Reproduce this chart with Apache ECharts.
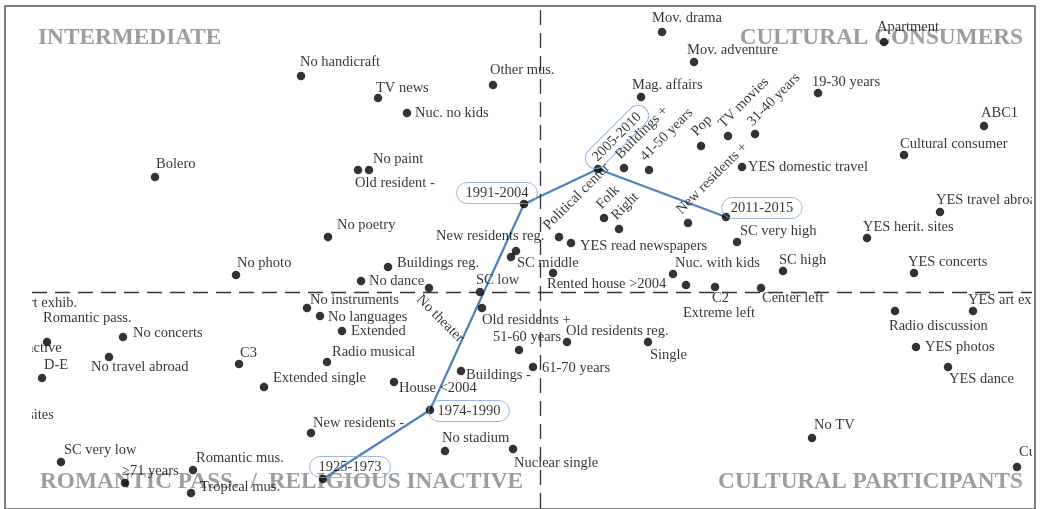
<!DOCTYPE html>
<html><head><meta charset="utf-8">
<script src="https://cdn.jsdelivr.net/npm/echarts@6/dist/echarts.min.js"></script>
<style>html,body{margin:0;padding:0;background:#fff}#chart{width:1043px;height:509px}</style>
</head><body><div id="chart"></div>
<script>
// ---- Data: category points of the correspondence map (dimension 1, dimension 2) ----
const pointNames = [
  'No handicraft','Bolero','No photo','No poetry','TV news','Nuc. no kids','Other mus.','No paint','Old resident -',
  '1991-2004','New residents reg.','SC middle','Buildings reg.','No dance','No theater','SC low',
  'Mov. drama','Mov. adventure','Apartment','Mag. affairs','19-30 years','ABC1','2005-2010','Buildings +','41-50 years',
  'Pop','TV movies','31-40 years','Cultural consumer','YES domestic travel','Political center','Folk','Right',
  'New residents +','2011-2015','YES read newspapers','SC very high','YES herit. sites','YES travel abroad',
  'Rented house >2004','Nuc. with kids','SC high','YES concerts','Extreme left','C2','Center left',
  'Old residents +','51-60 years','Old residents reg.','Single','61-70 years','Nuclear single','YES art exhib.',
  'Radio discussion','YES photos','YES dance','No TV','Cultural participant',
  'No instruments','No languages','Extended','Radio musical','Buildings -','House <2004','1974-1990','No stadium',
  'New residents -','1925-1973','Romantic pass.','No concerts','No travel abroad','D-E','C3','Extended single',
  'SC very low','≥71 years','Romantic mus.','Tropical mus.','No art exhib.','Inactive','No herit. sites'
];
const dim1 = [
  -1.195,-1.925,-1.52,-1.06,-0.81,-0.665,-0.235,-0.855,-0.91,
  -0.08,-0.12,-0.145,-0.76,-0.895,-0.555,-0.30,
  0.61,0.77,1.72,0.505,1.39,2.22,0.29,0.42,0.545,
  0.805,0.94,1.075,1.82,1.01,0.095,0.32,0.395,
  0.74,0.93,0.155,0.985,1.635,2.0,
  0.065,0.665,1.215,1.87,0.73,0.875,1.105,
  -0.29,-0.105,0.135,0.54,-0.035,-0.135,2.165,
  1.775,1.88,2.04,1.36,2.385,
  -1.165,-1.10,-0.99,-1.065,-0.395,-0.73,-0.55,-0.475,
  -1.145,-1.085,-2.465,-2.085,-2.155,-2.49,-1.505,-1.38,
  -2.395,-2.075,-1.735,-1.745,-2.73,-2.73,-2.85
];
const dim2 = [
  1.08,0.575,0.085,0.275,0.97,0.895,1.035,0.61,0.61,
  0.44,0.205,0.175,0.125,0.055,0.02,0.0,
  1.30,1.15,1.25,0.975,0.995,0.83,0.615,0.62,0.61,
  0.73,0.78,0.79,0.685,0.625,0.275,0.37,0.315,
  0.345,0.375,0.245,0.25,0.27,0.40,
  0.095,0.09,0.105,0.095,0.035,0.025,0.02,
  -0.08,-0.29,-0.25,-0.25,-0.375,-0.785,-0.095,
  -0.095,-0.275,-0.375,-0.73,-0.875,
  -0.08,-0.12,-0.195,-0.35,-0.395,-0.45,-0.59,-0.795,
  -0.705,-0.935,-0.25,-0.225,-0.325,-0.43,-0.36,-0.475,
  -0.85,-0.955,-0.89,-1.005,-0.055,-0.28,-0.615
];
const periodNames = ['1925-1973','1974-1990','1991-2004','2005-2010','2011-2015'];
const quadrantTitles = ['INTERMEDIATE','CULTURAL CONSUMERS','ROMANTIC PASS.  /  RELIGIOUS INACTIVE','CULTURAL PARTICIPANTS'];

// ---- Label placement (style only): [dx, dy, mode] relative to the dot ----
const labelPlacement = {
  'No handicraft':[-1,-14,'l'],'Bolero':[1,-13,'l'],'No photo':[1,-12,'l'],'No poetry':[9,-12,'l'],
  'TV news':[-2,-10,'l'],'Nuc. no kids':[8,0,'l'],'Other mus.':[-3,-15,'l'],'No paint':[4,-11,'l'],
  'Old resident -':[-3,13,'l'],'1991-2004':[-27,-11,'c'],'New residents reg.':[-80,-15,'l'],'SC middle':[6,6,'l'],
  'Buildings reg.':[9,-4,'l'],'No dance':[8,0,'l'],'No theater':[-5,4,'d'],'SC low':[-4,-12,'l'],
  'Mov. drama':[-10,-14,'l'],'Mov. adventure':[-7,-12,'l'],'Apartment':[-7,-15,'l'],'Mag. affairs':[-9,-12,'l'],
  '19-30 years':[-6,-11,'l'],'ABC1':[-3,-13,'l'],'2005-2010':[19,-32,'cu'],'Buildings +':[-1,-6,'u'],
  '41-50 years':[-1,-6,'u'],'Pop':[-2,-7,'u'],'TV movies':[-2,-5,'u'],'31-40 years':[0,-5,'u'],
  'Cultural consumer':[-4,-11,'l'],'YES domestic travel':[6,0,'l'],'Political center':[-8,-4,'u'],
  'Folk':[0,-6,'u'],'Right':[0,-6,'u'],'New residents +':[-4,-6,'u'],'2011-2015':[36,-9,'c'],
  'YES read newspapers':[9,3,'l'],'SC very high':[3,-11,'l'],'YES herit. sites':[-4,-11,'l'],
  'YES travel abroad':[-4,-12,'l'],'Rented house >2004':[-6,11,'l'],'Nuc. with kids':[2,-11,'l'],
  'SC high':[-4,-11,'l'],'YES concerts':[-6,-11,'l'],'Extreme left':[-3,28,'l'],'C2':[-3,11,'l'],
  'Center left':[1,10,'l'],'Old residents +':[0,12,'l'],'51-60 years':[-26,-13,'l'],
  'Old residents reg.':[-1,-11,'l'],'Single':[2,13,'l'],'61-70 years':[9,1,'l'],'Nuclear single':[1,14,'l'],
  'YES art exhib.':[-5,-11,'l'],'Radio discussion':[-6,15,'l'],'YES photos':[9,0,'l'],'YES dance':[1,12,'l'],
  'No TV':[2,-13,'l'],'Cultural participant':[2,-15,'l'],'No instruments':[3,-8,'l'],'No languages':[8,1,'l'],
  'Extended':[9,0,'l'],'Radio musical':[5,-10,'l'],'Buildings -':[5,4,'l'],'House <2004':[5,6,'l'],
  '1974-1990':[39,1,'c'],'No stadium':[-3,-13,'l'],'New residents -':[2,-10,'l'],'1925-1973':[27,-12,'c'],
  'Romantic pass.':[-4,-24,'l'],'No concerts':[10,-4,'l'],'No travel abroad':[-18,10,'l'],'D-E':[2,-13,'l'],
  'C3':[1,-11,'l'],'Extended single':[9,-9,'l'],'SC very low':[3,-12,'l'],'≥71 years':[-3,-12,'l'],
  'Romantic mus.':[3,-12,'l'],'Tropical mus.':[9,-6,'l'],'No art exhib.':[7,0,'l'],'Inactive':[21,0,'l'],
  'No herit. sites':[3,0,'l']
};

const DOT = 8.5, R = DOT / 2;
const FONT = 'Liberation Serif';
const ELLIPSE = { borderColor:'#7fa7d8', borderWidth:1, borderRadius:12, padding:[3,9] };

const scatterData = pointNames.map((n, i) => {
  const p = labelPlacement[n] || [6, 0, 'l'];
  const label = { position:[p[0] + R, p[1] + R] };
  if (p[2] === 'l') { label.align = 'left'; label.verticalAlign = 'middle'; }
  else if (p[2] === 'c') { Object.assign(label, ELLIPSE, { align:'center', verticalAlign:'middle' }); }
  else if (p[2] === 'cu') { Object.assign(label, ELLIPSE, { align:'center', verticalAlign:'middle', rotate:45 }); }
  else if (p[2] === 'u') { label.align = 'left'; label.verticalAlign = 'bottom'; label.rotate = 45; }
  else if (p[2] === 'd') { label.align = 'left'; label.verticalAlign = 'top'; label.rotate = -45; }
  return { name:n, value:[dim1[i], dim2[i]], label };
});

const pathData = periodNames.map(n => {
  const i = pointNames.indexOf(n);
  return [dim1[i], dim2[i]];
});

const titleFont = 'bold 23.3px "Liberation Serif"';
const titlePos = [[38,38,'left'],[1023,38,'right'],[40,482,'left'],[1023,482,'right']];

const chart = echarts.init(document.getElementById('chart'), null, { renderer:'canvas' });
chart.setOption({
  animation:false,
  backgroundColor:'#fff',
  grid:{ left:32, right:11, top:6, bottom:1 },
  xAxis:{ type:'value', min:-2.54, max:2.46, show:false },
  yAxis:{ type:'value', min:-1.08, max:1.43, show:false },
  graphic:[
    ...quadrantTitles.map((t, k) => ({
      type:'text', x:titlePos[k][0], y:titlePos[k][1], z:1,
      style:{ text:t, font:titleFont, fill:'#9d9d9d', align:titlePos[k][2], verticalAlign:'middle' }
    })),
    { type:'rect', zlevel:1, shape:{ x:0, y:6.5, width:32, height:503 }, style:{ fill:'#fff' } },
    { type:'rect', zlevel:1, shape:{ x:1032, y:0, width:11, height:509 }, style:{ fill:'#fff' } },
    { type:'rect', zlevel:1, shape:{ x:5, y:6, width:1030, height:503 }, style:{ fill:'none', stroke:'#555', lineWidth:1.5 } }
  ],
  series:[
    {
      type:'line', data:pathData, symbol:'none', z:2,
      lineStyle:{ color:'#4f81bd', width:2.2 }
    },
    {
      type:'scatter', data:scatterData, symbol:'circle', symbolSize:DOT, clip:false, z:3,
      itemStyle:{ color:'#000' },
      label:{ show:true, formatter:'{b}', fontFamily:FONT, fontSize:14.5, color:'#000' },
      emphasis:{ disabled:true },
      markLine:{
        silent:true, symbol:'none', label:{ show:false },
        lineStyle:{ color:'#333', width:1.3, type:[15,8] },
        data:[ { xAxis:0 }, { yAxis:0 } ]
      }
    }
  ]
});
</script>
</body></html>
